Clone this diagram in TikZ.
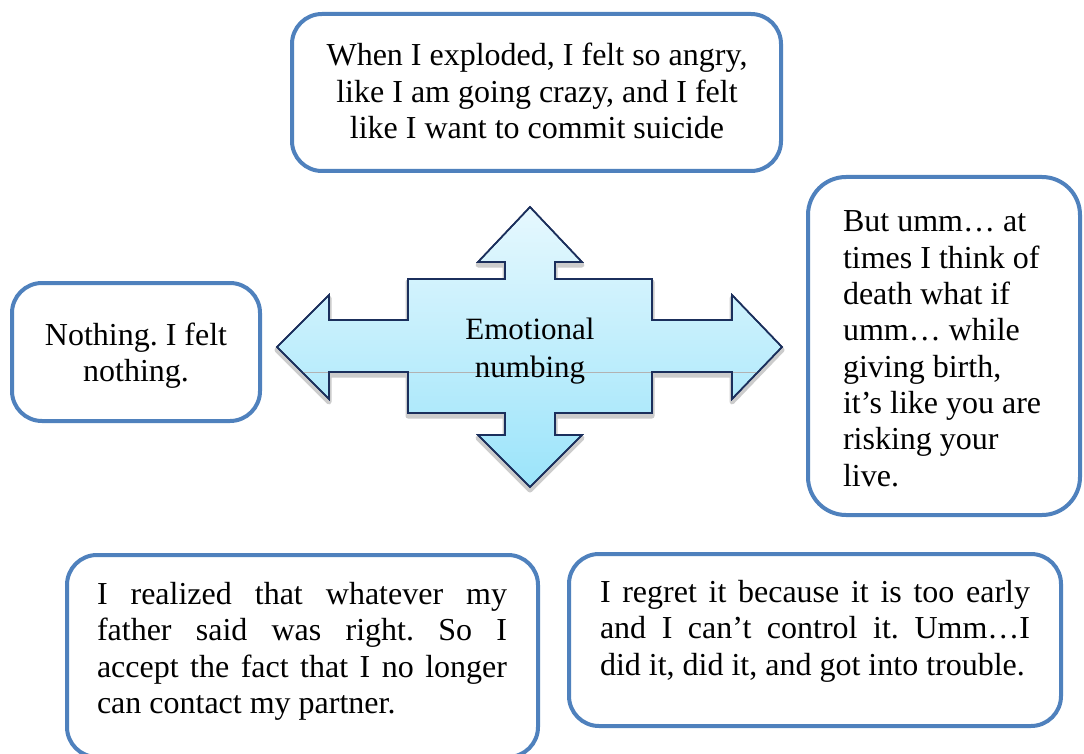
\documentclass[tikz,border=0pt]{standalone}
\usepackage{fontspec}
\setmainfont{Liberation Serif}
\frenchspacing
\definecolor{boxblue}{HTML}{4F81BD}
\definecolor{arrowedge}{HTML}{1B2F5C}
\definecolor{geltop}{HTML}{E6F8FE}
\definecolor{gelbottom}{HTML}{9BE4FA}
\tikzset{
  quotebox/.style={draw=boxblue, line width=4pt, rounded corners=30pt, fill=white,
                   inner sep=0pt, outer sep=0pt},
  quotetext/.style={inner sep=0pt, outer sep=0pt, font=\fontsize{32}{36.5}\selectfont},
}
% outline of the four-way arrow
\def\EmArrowPath{(530,207) -- (582,262) -- (555,262) -- (555,279) -- (652,279) -- (652,320)
  -- (732,320) -- (732,295) -- (782,347) -- (732,399) -- (732,372) -- (652,372)
  -- (652,413) -- (555,413) -- (555,435) -- (582,435) -- (530,487) -- (478,435)
  -- (505,435) -- (505,413) -- (408,413) -- (408,372) -- (329,372) -- (329,399)
  -- (277,347) -- (329,295) -- (329,320) -- (408,320) -- (408,279) -- (505,279)
  -- (505,262) -- (478,262) -- cycle}
\begin{document}
\begin{tikzpicture}[x=1pt,y=-1pt]
  \fill[white] (0,0) rectangle (1084,754);
  \useasboundingbox (0,0) rectangle (1084,754);
  \clip (0,0) rectangle (1084,754);

  % central arrow: soft rim, gel fill, dark outline
  \begin{scope}[shift={(0,3)}]
    \draw[gray!40, line width=5pt, line join=round] \EmArrowPath;
  \end{scope}
  \draw[arrowedge, line width=1.6pt, line join=miter, top color=geltop, bottom color=gelbottom] \EmArrowPath;
  \begin{scope}
    \clip \EmArrowPath;
    \draw[black!30, line width=0.8pt] (277,372) -- (782,372);
  \end{scope}
  \draw[arrowedge, line width=1.6pt, line join=miter] \EmArrowPath;
  % (multi-line nodes: base anchor sits on the last line)
  \node[quotetext, align=center, anchor=base, font=\fontsize{31}{38}\selectfont] (core) at (530,377) {Emotional\\numbing};

  % quotation boxes
  \node[quotebox, minimum width=489pt, minimum height=157pt] (boxtop) at (536.5,92.5) {};
  \node[quotebox, minimum width=248pt, minimum height=138pt] (boxleft) at (136,352) {};
  \node[quotebox, minimum width=272pt, minimum height=338pt, rounded corners=38pt] (boxright) at (944,346) {};
  \node[quotebox, minimum width=471pt, minimum height=202pt] (boxbl) at (302.5,656) {};
  \node[quotebox, minimum width=492pt, minimum height=172pt] (boxbr) at (815,640) {};

  \node[quotetext, align=center, anchor=base] (ttop) at (537,139)
    {When I exploded, I felt so angry,\\like I am going crazy, and I felt\\like I want to commit suicide};
  \node[quotetext, align=center, anchor=base] (tleft) at (136,381.5)
    {Nothing. I felt\\nothing.};
  \node[quotetext, align=left, anchor=base west, font=\fontsize{32}{36.3}\selectfont] (tright) at (843,486)
    {But umm… at\\times I think of\\death what if\\umm… while\\giving birth,\\it’s like you are\\risking your\\live.};
  \node[quotetext, align=left, anchor=base west] (tbl) at (97,713.5)
    {\makebox[410pt][s]{I realized that whatever my}\\
     \makebox[410pt][s]{father said was right. So I}\\
     \makebox[410pt][s]{accept the fact that I no longer}\\
     can contact my partner.};
  \node[quotetext, align=left, anchor=base west] (tbr) at (600,675)
    {\makebox[430pt][s]{I regret it because it is too early}\\
     \makebox[430pt][s]{and I can’t control it. Umm…I}\\
     did it, did it, and got into trouble.};
\end{tikzpicture}
\end{document}
